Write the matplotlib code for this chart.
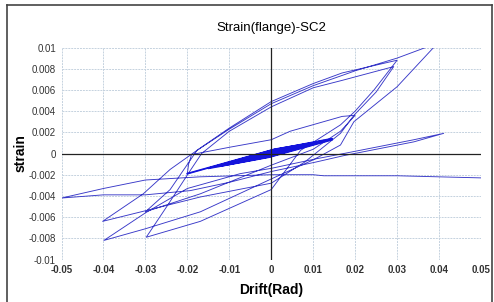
import numpy as np
import matplotlib.pyplot as plt
from matplotlib.lines import Line2D

# strain vs drift, cycle by cycle
bundle_x = [0, 0.005, 0.0002, -0.005, -0.0002, 0.0075, 0.0003, -0.0075, -0.0003,
            0.01, 0.0004, -0.01, -0.0004, 0.0125, 0.0005, -0.0125, -0.0005,
            0.0145, 0.0006, -0.015, -0.0006, 0.0145, 0.0008, -0.02]
bundle_y = [0, 0.0005, 0.00012, -0.0005, -0.00012, 0.0007, 0.00018, -0.00072, -0.0002,
            0.00095, 0.0002, -0.00098, -0.00025, 0.0012, 0.00028, -0.0012, -0.0003,
            0.0014, 0.00035, -0.0014, -0.00035, 0.0013, 0.0004, -0.0019]

c20_x = [-0.0197, -0.0190, -0.0098, 0, 0.0045, 0.0169, 0.0200,
         0.0165, 0.010, 0, -0.0169, -0.030]
c20_y = [-0.0010, -0.0001, 0.0006, 0.0013, 0.0021, 0.0035, 0.0036,
         0.0021, 0.0004, -0.0011, -0.0038, -0.0055]

c30a_x = [-0.0241, -0.0177, -0.010, 0, 0.010, 0.0169, 0.030,
          0.0245, 0.020, 0.0165, 0.007, 0, -0.0169, -0.0298]
c30a_y = [-0.0034, 0.0003, 0.0024, 0.0049, 0.0066, 0.0076, 0.0088,
          0.0060, 0.0040, 0.0027, 0.0003, -0.0034, -0.0064, -0.0079]

c30b_x = [-0.0249, -0.0193, -0.0166, -0.010, 0, 0.010, 0.0169, 0.0292,
          0.025, 0.0197, 0.0165, 0.008, 0, -0.0169, -0.030, -0.0402]
c30b_y = [-0.0050, -0.0016, 0.0, 0.0021, 0.0044, 0.0062, 0.0069, 0.0082,
          0.0058, 0.0036, 0.0019, -0.0008, -0.0028, -0.0041, -0.0054, -0.0064]

c40a_x = [-0.0305, -0.0241, -0.0177, -0.010, 0, 0.010, 0.020, 0.030, 0.0368, 0.042,
          0.0387, 0.030, 0.0197, 0.0165, 0.010, 0, -0.0169, -0.030, -0.0399]
c40a_y = [-0.0038, -0.0015, 0.0003, 0.0023, 0.0047, 0.0064, 0.0078, 0.0090, 0.0100, 0.0112,
          0.0100, 0.0063, 0.0030, 0.0008, -0.0006, -0.0024, -0.0055, -0.0071, -0.0082]

c40b_x = [-0.030, -0.020, -0.0074, 0, 0.0107, 0.0173, 0.034, 0.0411,
          0.034, 0.0173, 0.0107, 0, -0.0098, -0.0193, -0.030, -0.040, -0.050]
c40b_y = [-0.0056, -0.0033, -0.0019, -0.0014, -0.0005, 0.0, 0.0013, 0.0019,
          0.0011, -0.0002, -0.0008, -0.0017, -0.0027, -0.0035, -0.0039, -0.0039, -0.0042]

c50_x = [-0.040, -0.030, -0.017, 0, 0.010, 0.0125, 0.030, 0.050]
c50_y = [-0.0033, -0.0025, -0.0022, -0.0020, -0.0020, -0.0021, -0.0021, -0.0023]

drift = np.concatenate([bundle_x, c20_x, c30a_x, c30b_x, c40a_x, c40b_x, c50_x])
strain = np.concatenate([bundle_y, c20_y, c30a_y, c30b_y, c40a_y, c40b_y, c50_y])

xticks = [-0.05, -0.04, -0.03, -0.02, -0.01, 0, 0.01, 0.02, 0.03, 0.04, 0.05]
yticks = [-0.01, -0.008, -0.006, -0.004, -0.002, 0, 0.002, 0.004, 0.006, 0.008, 0.01]

plt.rcParams['font.family'] = ['Liberation Sans', 'DejaVu Sans']
fig = plt.figure(figsize=(4.94, 3.02), dpi=100)
ax = fig.add_axes([0.1245, 0.1407, 0.8492, 0.702])

ax.plot(drift, strain, color='#3838c8', lw=0.65)
# thicken the small-cycle bundle near the origin
ax.plot(bundle_x, bundle_y, color='#1414dc', lw=1.3)

ax.axhline(0, color='#222222', lw=0.9)
ax.axvline(0, color='#222222', lw=0.9)

ax.set_xlim(-0.05, 0.05)
ax.set_ylim(-0.01, 0.01)
ax.set_xticks(xticks)
ax.set_yticks(yticks)
ax.set_xticklabels(['-0.05', '-0.04', '-0.03', '-0.02', '-0.01', '0', '0.01', '0.02', '0.03', '0.04', '0.05'],
                   fontweight='bold', fontsize=7)
ax.set_yticklabels(['-0.01', '-0.008', '-0.006', '-0.004', '-0.002', '0', '0.002', '0.004', '0.006', '0.008', '0.01'],
                   fontsize=7)
ax.tick_params(length=0, pad=4, colors='#333333')
ax.grid(True, color='#c5d2df', lw=0.7, ls=(0, (2, 1)))
ax.set_axisbelow(True)
for s in ax.spines.values():
    s.set_visible(False)

ax.set_title('Strain(flange)-SC2', fontsize=9.5, pad=12)
ax.set_xlabel('Drift(Rad)', fontsize=10, fontweight='bold', labelpad=6)
ax.set_ylabel('strain', fontsize=10, fontweight='bold', labelpad=1)

# outer frame of the chart
fig.add_artist(Line2D([7/494, 7/494], [0, 1 - 5/302], color='#444444', lw=1.2))
fig.add_artist(Line2D([7/494, 492/494], [1 - 5/302, 1 - 5/302], color='#444444', lw=1.2))
fig.add_artist(Line2D([492/494, 492/494], [0, 1 - 5/302], color='#444444', lw=1.2))

fig.savefig('out.png', dpi=100)
